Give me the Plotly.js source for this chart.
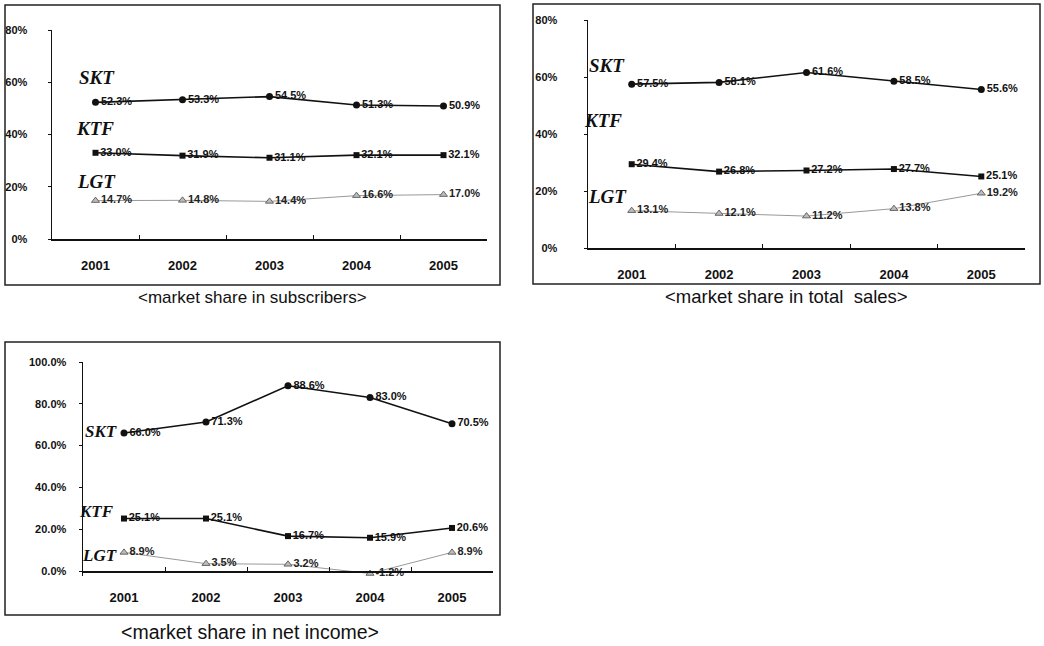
<!DOCTYPE html>
<html>
<head>
<meta charset="utf-8">
<script src="https://cdn.plot.ly/plotly-3.0.1.min.js"></script>
<style>html,body{margin:0;padding:0;background:#fff;}#chart{width:1044px;height:646px;}</style>
</head>
<body>
<div id="chart"></div>
<script>
// ---- data ----
const years = ['2001', '2002', '2003', '2004', '2005'];
const companies = ['SKT', 'KTF', 'LGT'];

const subSKT = [52.3, 53.3, 54.5, 51.3, 50.9];
const subKTF = [33.0, 31.9, 31.1, 32.1, 32.1];
const subLGT = [14.7, 14.8, 14.4, 16.6, 17.0];

const salesSKT = [57.5, 58.1, 61.6, 58.5, 55.6];
const salesKTF = [29.4, 26.8, 27.2, 27.7, 25.1];
const salesLGT = [13.1, 12.1, 11.2, 13.8, 19.2];

const incSKT = [66.0, 71.3, 88.6, 83.0, 70.5];
const incKTF = [25.1, 25.1, 16.7, 15.9, 20.6];
const incLGT = [8.9, 3.5, 3.2, -1.2, 8.9];

const captions = ['<market share in subscribers>', '<market share in total  sales>', '<market share in net income>'];
const ticks80 = [0, 20, 40, 60, 80];
const ticks100 = [0, 20, 40, 60, 80, 100];

// ---- helpers ----
const W = 1044, H = 646;
const px = v => v / W;
const py = v => 1 - v / H;
const narrow = 'Liberation Sans Narrow, Liberation Sans, Arial, sans-serif';

const styles = {
  SKT: {line: {color: '#111', width: 1.6}, marker: {symbol: 'circle', size: 7, color: '#111'}, tc: '#111'},
  KTF: {line: {color: '#111', width: 1.6}, marker: {symbol: 'square', size: 6, color: '#111'}, tc: '#111'},
  LGT: {line: {color: '#999', width: 1}, marker: {symbol: 'triangle-up', size: 7, color: '#bbb', line: {color: '#666', width: 1}}, tc: '#222'}
};

function series(name, vals, ax) {
  const s = styles[name];
  return {
    type: 'scatter', mode: 'lines+markers+text', name: name,
    x: years, y: vals, xaxis: 'x' + ax, yaxis: 'y' + ax,
    text: vals.map(v => v.toFixed(1) + '%'),
    textposition: 'middle right',
    textfont: {family: narrow, size: 11, color: s.tc, weight: 'bold'},
    line: s.line, marker: s.marker, cliponaxis: false, showlegend: false, hoverinfo: 'skip'
  };
}

const data = [
  series('SKT', subSKT, ''), series('KTF', subKTF, ''), series('LGT', subLGT, ''),
  series('SKT', salesSKT, '2'), series('KTF', salesKTF, '2'), series('LGT', salesLGT, '2'),
  series('SKT', incSKT, '3'), series('KTF', incKTF, '3'), series('LGT', incLGT, '3')
];

function xax(d0, d1, anchor, pos) {
  const a = {
    type: 'category', domain: [px(d0), px(d1)], anchor: anchor, range: [-0.5, 4.5],
    showline: true, linecolor: '#111', linewidth: 1.5, showgrid: false, zeroline: false,
    tickson: 'boundaries', ticks: 'inside', ticklen: 4, tickcolor: '#111',
    ticklabelstandoff: 14,
    tickfont: {family: narrow, size: 13, color: '#111', weight: 'bold'}, fixedrange: true
  };
  if (pos !== undefined) { a.anchor = 'free'; a.position = py(pos); }
  return a;
}
function yax(b, t, anchor, vals, dec, min, max, standoff) {
  return {
    domain: [py(b), py(t)], anchor: anchor, range: [min, max],
    tickvals: vals, ticktext: vals.map(v => v.toFixed(dec) + '%'),
    showline: true, linecolor: '#111', linewidth: 1.5, showgrid: false, zeroline: false,
    ticks: 'outside', ticklen: 3, tickcolor: '#111', ticklabelstandoff: standoff,
    tickfont: {family: narrow, size: 11, color: '#111', weight: 'bold'}, fixedrange: true
  };
}

const serifLab = 'Liberation Serif, Times New Roman, serif';
function lab(text, x, y, size) {
  return {text: text, xref: 'paper', yref: 'paper', x: px(x), y: py(y), showarrow: false,
    xanchor: 'center', yanchor: 'middle',
    font: {family: serifLab, size: size, color: '#111', weight: 'bold', style: 'italic'}};
}
function cap(text, x, y, size) {
  return {text: text.replace(/</g, '&lt;').replace(/>/g, '&gt;'), xref: 'paper', yref: 'paper', x: px(x), y: py(y),
    showarrow: false, xanchor: 'center', yanchor: 'middle',
    font: {family: 'Liberation Sans, Arial, sans-serif', size: size, color: '#111'}};
}
function frame(x0, y0, x1, y1) {
  return {type: 'rect', xref: 'paper', yref: 'paper', x0: px(x0), x1: px(x1), y0: py(y0), y1: py(y1),
    line: {color: '#222', width: 1.5}, fillcolor: 'rgba(0,0,0,0)'};
}

// chart 3: 0% at pixel 571, 100% at pixel 362 -> 2.09 px per %; extend below 0 for the negative value
const c3min = -2.5;
const c3bottom = 571 + (-c3min) * (571 - 362) / 100;

const layout = {
  width: W, height: H, margin: {l: 0, r: 0, t: 0, b: 0},
  paper_bgcolor: '#fff', plot_bgcolor: 'rgba(0,0,0,0)',
  xaxis: xax(52, 487, 'y'), yaxis: yax(239, 30, 'x', ticks80, 0, 0, 80, 18),
  xaxis2: xax(588, 1025, 'y2'), yaxis2: yax(248, 20, 'x2', ticks80, 0, 0, 80, 24),
  xaxis3: xax(83, 493, 'y3', 571), yaxis3: yax(c3bottom, 362, 'x3', ticks100, 1, c3min, 100, 10),
  shapes: [frame(5, 5, 500, 285), frame(533, 4, 1040, 284), frame(5, 342, 500, 615)],
  annotations: [
    lab(companies[0], 97, 77, 19), lab(companies[1], 95, 129, 19), lab(companies[2], 96, 181, 19),
    lab(companies[0], 607, 66, 19), lab(companies[1], 603, 120, 19), lab(companies[2], 607, 197, 19),
    lab(companies[0], 101, 432, 17), lab(companies[1], 96, 511, 17), lab(companies[2], 99, 555, 17),
    cap(captions[0], 252, 297, 17), cap(captions[1], 786, 296, 18.5), cap(captions[2], 250, 632, 19.5)
  ]
};

Plotly.newPlot('chart', data, layout, {staticPlot: true});
</script>
</body>
</html>
